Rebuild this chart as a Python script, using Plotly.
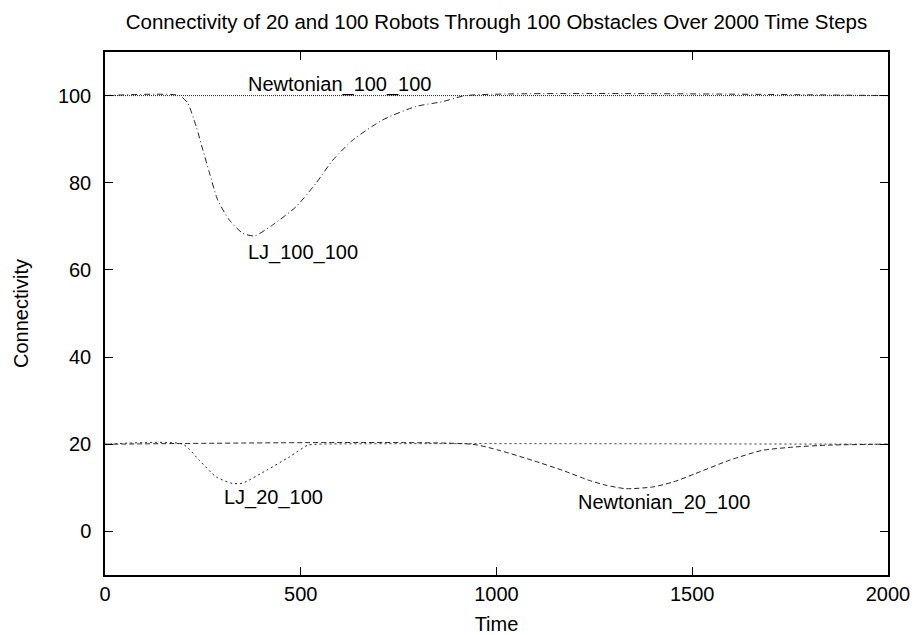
import plotly.graph_objects as go

# ---- data ----
newton_100_t = [0, 2000]
newton_100_v = [100, 100]

lj_100_t = [0, 190, 211, 233, 250, 267, 288, 318, 352, 382, 428, 488, 539, 582, 633, 709, 794, 862, 922, 2000]
lj_100_v = [100, 100, 98.3, 92.9, 87.5, 82.2, 76.0, 71.4, 68.4, 67.8, 70.3, 74.5, 79.9, 85.2, 89.8, 94.4, 97.5, 98.6, 100, 100]

lj_20_t = [0, 199, 241, 284, 326, 352, 412, 471, 518, 540, 2000]
lj_20_v = [20, 20, 16.3, 12.5, 11.0, 11.1, 14.0, 17.1, 19.8, 20, 20]

newton_20_t = [0, 938, 1007, 1092, 1169, 1237, 1280, 1331, 1399, 1450, 1509, 1594, 1679, 1765, 1850, 1977, 2000]
newton_20_v = [20, 20, 18.6, 16.3, 14.0, 11.7, 10.6, 9.8, 10.2, 11.3, 13.3, 16.3, 18.6, 19.4, 19.8, 20, 20]

x_ticks = [0, 500, 1000, 1500, 2000]
y_ticks = [0, 20, 40, 60, 80, 100]

label_text = ["Newtonian_100_100", "LJ_100_100", "LJ_20_100", "Newtonian_20_100"]
label_x = [361, 361, 300, 1204]
label_y = [102.5, 63.9, 7.8, 6.7]

FONT = "Liberation Sans, Arial, sans-serif"

fig = go.Figure()
fig.add_trace(go.Scatter(x=newton_100_t, y=newton_100_v, mode="lines",
                         line=dict(color="#222", width=1, dash="1px,1px")))
fig.add_trace(go.Scatter(x=lj_100_t, y=lj_100_v, mode="lines",
                         line=dict(color="#222", width=1, dash="6px,3px,1px,3px", shape="spline", smoothing=0.6)))
fig.add_trace(go.Scatter(x=lj_20_t, y=lj_20_v, mode="lines",
                         line=dict(color="#222", width=1, dash="2px,3px", shape="spline", smoothing=0.6)))
fig.add_trace(go.Scatter(x=newton_20_t, y=newton_20_v, mode="lines",
                         line=dict(color="#222", width=1, dash="5px,3px", shape="spline", smoothing=0.6)))

for t, x, y in zip(label_text, label_x, label_y):
    fig.add_annotation(x=x, y=y, text=t, showarrow=False, xanchor="left", yanchor="middle",
                       font=dict(family=FONT, size=20, color="black"))

axis_common = dict(showgrid=False, zeroline=False, showline=True, linecolor="black", linewidth=1.5,
                   mirror="ticks", ticks="inside", ticklen=8, tickwidth=1, tickcolor="black",
                   automargin=False,
                   tickfont=dict(family=FONT, size=20, color="black"))

fig.update_xaxes(range=[0, 2000], tickvals=x_ticks, ticklabelstandoff=0,
                 title=dict(text="Time", font=dict(family=FONT, size=20, color="black"), standoff=13),
                 **axis_common)
fig.update_yaxes(range=[-10, 110], tickvals=y_ticks, ticklabelstandoff=8,
                 title=dict(text="Connectivity", font=dict(family=FONT, size=20, color="black"), standoff=24),
                 **axis_common)

fig.update_layout(
    width=917, height=635,
    paper_bgcolor="white", plot_bgcolor="white",
    showlegend=False,
    margin=dict(l=105, r=29, t=52, b=60, autoexpand=False),
    title=dict(text="Connectivity of 20 and 100 Robots Through 100 Obstacles Over 2000 Time Steps",
               x=0.5, xref="paper", y=0.965, yanchor="middle",
               font=dict(family=FONT, size=20.5, color="black")),
)

fig.write_html("out.html", config={"displayModeBar": False},
               post_script="document.body.style.margin='0';")
